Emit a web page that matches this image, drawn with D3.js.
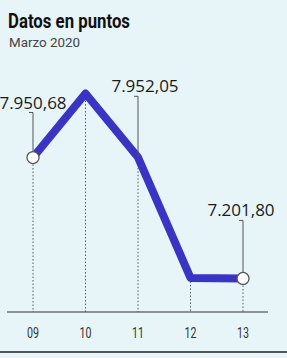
<!DOCTYPE html>
<meta charset="utf-8">
<title>Datos en puntos</title>
<style>
    body {
        margin: 0;
        background: #e7f5f9;
    }

    svg {
        display: block;
    }

    .title {
        font-family: Roboto, "DejaVu Sans Condensed", sans-serif;
        font-weight: bold;
        font-size: 20px;
        fill: #111;
    }

    .subtitle {
        font-family: Roboto, "DejaVu Sans Condensed", sans-serif;
        font-size: 12px;
        fill: #444;
    }

    .tick-label {
        font-family: Roboto, "DejaVu Sans Condensed", sans-serif;
        font-size: 14px;
        fill: #333;
    }

    .value-label {
        font-family: "Open Sans", "DejaVu Sans", sans-serif;
        font-size: 17px;
        fill: #1a1a1a;
    }

    .drop {
        stroke: #4a5a60;
        stroke-width: 1;
        stroke-dasharray: 1.5, 2;
    }

    .leader {
        fill: none;
        stroke: #555;
        stroke-width: 1;
    }

    .series {
        fill: none;
        stroke: #3a34c4;
        stroke-width: 8px;
        stroke-linejoin: round;
    }
</style>

<body>
    <svg id="chart"></svg>
</body>

<script src="https://d3js.org/d3.v7.min.js"></script>
<script>
    // data
    var days = ["09", "10", "11", "12", "13"];
    var points = [7950.68, 8347, 7952.05, 7205, 7201.80];
    var labelDays = ["09", "11", "13"];
    var labelTexts = ["7.950,68", "7.952,05", "7.201,80"];

    var width = 287,
        height = 358;

    var svg = d3.select("#chart")
        .attr("width", width)
        .attr("height", height);

    var x = d3.scalePoint()
        .domain(days)
        .range([33, 243]);

    var y = d3.scaleLinear()
        .domain([7000, 8400])
        .range([311, 85]);

    var axisY = 312;

    // the print uses a condensed face, so squeeze to the measured width
    svg.append("text")
        .attr("class", "title")
        .attr("x", 8)
        .attr("y", 28)
        .attr("textLength", 122)
        .attr("lengthAdjust", "spacingAndGlyphs")
        .text("Datos en puntos");

    svg.append("text")
        .attr("class", "subtitle")
        .attr("x", 9)
        .attr("y", 47)
        .attr("textLength", 71)
        .attr("lengthAdjust", "spacingAndGlyphs")
        .text("Marzo 2020");

    // dotted drops from each point to the baseline
    svg.selectAll("line.drop")
        .data(days)
        .enter().append("line")
        .attr("class", "drop")
        .attr("x1", d => x(d))
        .attr("x2", d => x(d))
        .attr("y1", (d, i) => y(points[i]))
        .attr("y2", axisY);

    // baseline
    svg.append("line")
        .attr("x1", 7)
        .attr("x2", 268)
        .attr("y1", axisY)
        .attr("y2", axisY)
        .attr("stroke", "#333")
        .attr("stroke-width", 1.2);

    // bottom rule
    svg.append("line")
        .attr("x1", 0)
        .attr("x2", width)
        .attr("y1", 352)
        .attr("y2", 352)
        .attr("stroke", "#222")
        .attr("stroke-width", 1.5);

    svg.selectAll("text.tick-label")
        .data(days)
        .enter().append("text")
        .attr("class", "tick-label")
        .attr("x", d => x(d))
        .attr("y", 338)
        .attr("text-anchor", "middle")
        .attr("textLength", 12)
        .attr("lengthAdjust", "spacingAndGlyphs")
        .text(d => d);

    var line = d3.line()
        .x((d, i) => x(days[i]))
        .y(d => y(d));

    svg.append("path")
        .datum(points)
        .attr("class", "series")
        .attr("d", line);

    // callouts: leader length above the point, small hook to the left
    var leaderLen = [45, 61, 58];
    var dx = [0, 7, -2];

    labelDays.forEach(function (day, k) {
        var i = days.indexOf(day);
        var px = x(day),
            py = y(points[i]);
        var top = py - leaderLen[k];
        svg.append("path")
            .attr("class", "leader")
            .attr("d", "M" + (px - 4) + "," + top + "H" + px + "V" + py);
        svg.append("text")
            .attr("class", "value-label")
            .attr("x", px + dx[k])
            .attr("y", top - 4)
            .attr("text-anchor", "middle")
            .text(labelTexts[k]);
    });

    // open circles at the first and last points
    svg.selectAll("circle.end")
        .data([0, days.length - 1])
        .enter().append("circle")
        .attr("class", "end")
        .attr("cx", i => x(days[i]))
        .attr("cy", i => y(points[i]))
        .attr("r", 6)
        .attr("fill", "#fff")
        .attr("stroke", "#555")
        .attr("stroke-width", 1.3);
</script>
